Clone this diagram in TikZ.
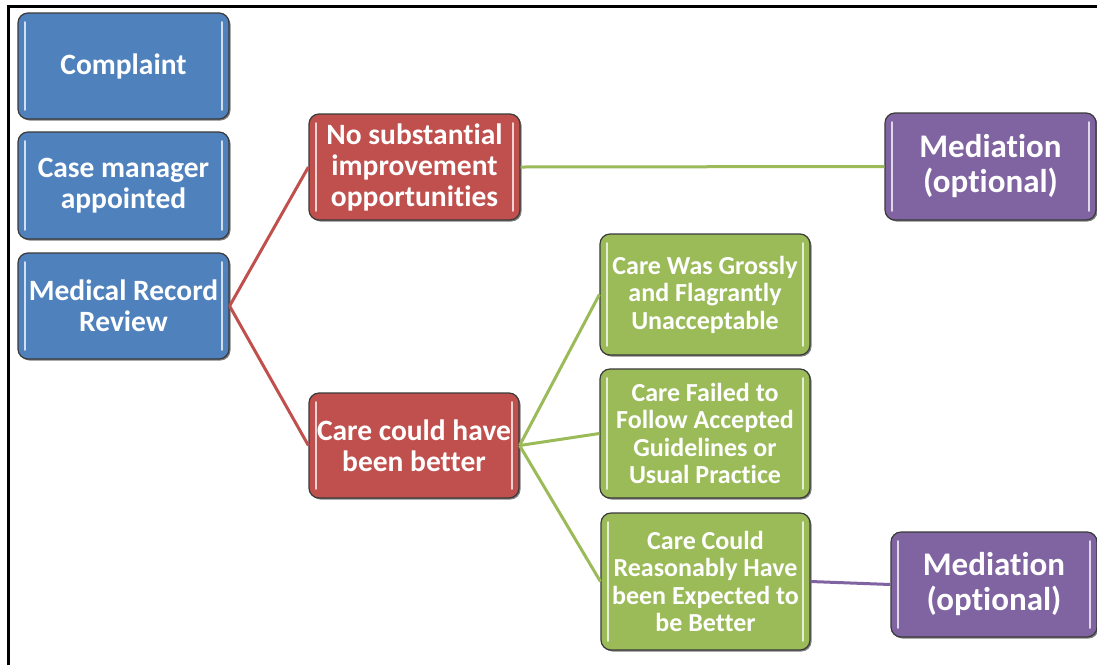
\documentclass[tikz,border=0pt]{standalone}
\usepackage{fontspec}
\setmainfont{Carlito}[Ligatures={NoCommon}]
\usetikzlibrary{shadows}
\definecolor{cblue}{HTML}{4F81BD}
\definecolor{cred}{HTML}{C0504D}
\definecolor{cgreen}{HTML}{9BBB59}
\definecolor{cpurple}{HTML}{8064A2}
\definecolor{cedge}{HTML}{3A3A3A}
\tikzset{
  box/.style={draw=cedge, line width=1.2pt, rounded corners=10pt, text=white,
    font=\bfseries, align=center, inner sep=0pt,
    drop shadow={shadow xshift=1.5pt, shadow yshift=-1.5pt, opacity=0.5, fill=black},
    path picture={
      \draw[#1!25!white, line width=1.6pt, line cap=round]
        ([xshift=7pt,yshift=-9pt]path picture bounding box.north west) --
        ([xshift=7pt,yshift=9pt]path picture bounding box.south west);
      \draw[#1!25!white, line width=1.6pt, line cap=round]
        ([xshift=-7pt,yshift=-9pt]path picture bounding box.north east) --
        ([xshift=-7pt,yshift=9pt]path picture bounding box.south east);
    }},
  bluebox/.style={box=cblue, fill=cblue, font=\bfseries\fontsize{29.5}{31}\selectfont},
  redbox/.style={box=cred, fill=cred, font=\bfseries\fontsize{29.5}{31}\selectfont},
  greenbox/.style={box=cgreen, fill=cgreen, font=\bfseries\fontsize{26}{27.5}\selectfont},
  purplebox/.style={box=cpurple, fill=cpurple, font=\bfseries\fontsize{33}{35}\selectfont},
  redline/.style={draw=cred, line width=3pt},
  greenline/.style={draw=cgreen, line width=3pt},
  purpleline/.style={draw=cpurple, line width=3pt},
  frameline/.style={draw=black, line width=3pt}
}
\begin{document}
\begin{tikzpicture}[x=1pt, y=-1pt]
\useasboundingbox (0,0) rectangle (1097,665);
\fill[white] (0,0) rectangle (1097,665);
\draw[frameline] (8.5,665) -- (8.5,6) -- (1097,6);

\node[bluebox, minimum width=211pt, minimum height=106pt] (complaint) at (123.5,66) {Complaint};
\node[bluebox, minimum width=211pt, minimum height=107pt] (casemgr) at (123.5,185.5) {Case manager\\appointed};
\node[bluebox, minimum width=211pt, minimum height=106pt] (mrr) at (123.5,306) {Medical Record\\Review};

\node[redbox, minimum width=211pt, minimum height=106pt] (nosub) at (414.5,167) {No substantial\\improvement\\opportunities};
\node[redbox, minimum width=210pt, minimum height=105pt] (better) at (414,445.5) {Care could have\\been better};

\node[purplebox, minimum width=211pt, minimum height=107pt] (med1) at (990.5,166.5) {Mediation\\(optional)};

\node[greenbox, minimum width=210pt, minimum height=121pt] (gross) at (705,294.5) {Care Was Grossly\\and Flagrantly\\Unacceptable};
\node[greenbox, minimum width=210pt, minimum height=129pt] (failed) at (705,433.5) {Care Failed to\\Follow Accepted\\Guidelines or\\Usual Practice};
\node[greenbox, minimum width=209pt, minimum height=137pt] (reason) at (705.5,581.5) {Care Could\\Reasonably Have\\been Expected to\\be Better};

\node[purplebox, minimum width=206pt, minimum height=105pt] (med2) at (994,584.5) {Mediation\\(optional)};

\draw[redline] (mrr.east) -- (nosub.west);
\draw[redline] (mrr.east) -- (better.west);
\draw[greenline] (nosub.east) -- (med1.west);
\draw[greenline] (better.east) -- (gross.west);
\draw[greenline] (better.east) -- (failed.west);
\draw[greenline] (better.east) -- (reason.west);
\draw[purpleline] (reason.east) -- (med2.west);
\end{tikzpicture}
\end{document}
